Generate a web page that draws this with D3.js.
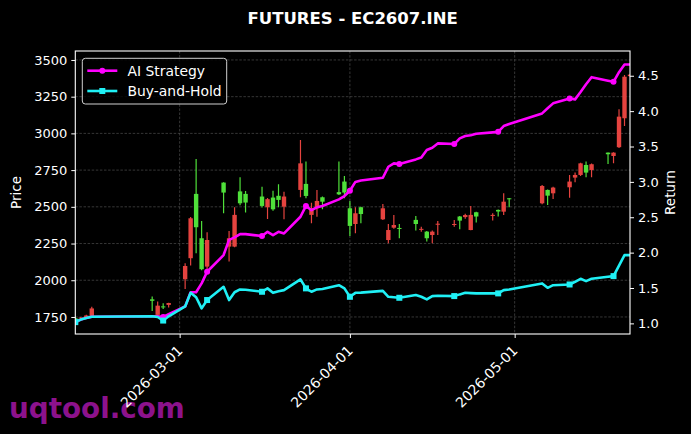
<!DOCTYPE html>
<html><head><meta charset="utf-8">
<script src="https://cdn.jsdelivr.net/npm/d3@7"></script>
<style>
body{margin:0;background:#000;}
svg{display:block;}
text{font-family:"DejaVu Sans",sans-serif;}
</style>
</head><body>
<svg id="c" width="691" height="434"></svg>
<script>
const dates = ["2026-02-10","2026-02-11","2026-02-12","2026-02-13","2026-02-24","2026-02-25","2026-02-26","2026-02-27",
"2026-03-02","2026-03-03","2026-03-04","2026-03-05","2026-03-06","2026-03-09","2026-03-10","2026-03-11","2026-03-12","2026-03-13",
"2026-03-16","2026-03-17","2026-03-18","2026-03-19","2026-03-20","2026-03-23","2026-03-24","2026-03-25","2026-03-26","2026-03-27",
"2026-03-30","2026-03-31","2026-04-01","2026-04-02","2026-04-03","2026-04-07","2026-04-08","2026-04-09","2026-04-10",
"2026-04-13","2026-04-14","2026-04-15","2026-04-16","2026-04-17","2026-04-20","2026-04-21","2026-04-22","2026-04-23","2026-04-24",
"2026-04-27","2026-04-28","2026-04-29","2026-04-30","2026-05-06","2026-05-07","2026-05-08","2026-05-11","2026-05-12","2026-05-13",
"2026-05-14","2026-05-15","2026-05-18","2026-05-19","2026-05-20","2026-05-21","2026-05-22"];
const open  = [1742,1740,1745,1755,1870,1764,1822,1832,2007,2150,2588,2286,2093,2665,2229,2229,2605,2588,2570,2497,2563,2575,2501,2615,2656,2445,2490,2565,2600,2672,2490,2383,2497,2415,2274,2358,2356,2411,2343,2331,2308,2378,2378,2434,2430,2342,2463,2438,2479,2467,2558,2524,2615,2592,2633,2699,2717,2785,2751,2869,2846,2906,3103,3390];
const high  = [1748,1750,1765,1820,1890,1855,1843,1847,2115,2430,2826,2404,2327,2668,2336,2497,2701,2608,2637,2560,2610,2654,2603,2955,2808,2528,2615,2570,2808,2710,2540,2497,2500,2520,2383,2445,2383,2438,2365,2335,2338,2404,2411,2438,2452,2506,2466,2456,2482,2592,2560,2648,2618,2637,2717,2733,2800,2808,2795,2870,2872,3164,3398,3405];
const low   = [1730,1735,1740,1750,1790,1760,1805,1815,1940,2100,2184,2068,2059,2456,2127,2225,2510,2461,2495,2417,2474,2497,2415,2565,2558,2388,2433,2483,2580,2558,2302,2320,2388,2410,2252,2350,2286,2338,2330,2263,2252,2308,2365,2347,2418,2340,2393,2406,2434,2445,2497,2518,2513,2553,2562,2667,2710,2701,2701,2792,2796,2900,3051,3385];
const close = [1738,1746,1760,1808,1860,1827,1818,1845,2097,2422,2361,2075,2274,2597,2286,2445,2524,2529,2506,2552,2483,2547,2570,2796,2574,2490,2540,2535,2585,2597,2370,2456,2451,2490,2342,2376,2350,2383,2350,2286,2331,2385,2383,2406,2444,2445,2434,2445,2468,2535,2552,2642,2576,2631,2672,2717,2796,2733,2790,2858,2869,3114,3386,3400];
const aiReturn = [1.018,1.054,1.075,1.093,1.10,1.10,1.09,1.13,1.24,1.44,1.44,1.565,1.73,1.966,2.18,2.216,2.262,2.262,2.234,2.295,2.248,2.295,2.272,2.507,2.66,2.60,2.64,2.66,2.753,2.80,2.874,3.0,3.02,3.058,3.214,3.262,3.252,3.318,3.346,3.45,3.482,3.544,3.535,3.615,3.648,3.66,3.68,3.70,3.708,3.789,3.817,3.968,4.04,4.11,4.18,4.166,4.27,4.38,4.48,4.43,4.415,4.55,4.66,4.66];
const bhReturn = [1.018,1.054,1.075,1.093,1.10,1.09,1.04,1.10,1.24,1.432,1.37,1.212,1.33,1.517,1.33,1.44,1.48,1.475,1.447,1.495,1.432,1.455,1.47,1.622,1.495,1.447,1.48,1.485,1.54,1.495,1.376,1.432,1.435,1.46,1.376,1.37,1.362,1.40,1.376,1.339,1.386,1.39,1.386,1.41,1.432,1.428,1.424,1.424,1.424,1.47,1.48,1.565,1.503,1.54,1.55,1.588,1.63,1.598,1.63,1.66,1.668,1.817,1.965,1.965];
const priceTicks = [1750,2000,2250,2500,2750,3000,3250,3500];
const returnTicks = [1.0,1.5,2.0,2.5,3.0,3.5,4.0,4.5];
const dateTicks = ["2026-03-01","2026-04-01","2026-05-01"];
const seriesNames = ["AI Strategy","Buy-and-Hold"];
const titleText = "FUTURES - EC2607.INE";
const watermark = "uqtool.com";

const W=691,H=434, L=75.3, R=630, T=51, B=334;
const parse = d3.utcParse("%Y-%m-%d");
const dts = dates.map(parse);
const svg = d3.select("#c");
svg.append("rect").attr("width",W).attr("height",H).attr("fill","#000");

const x = d3.scaleUtc().domain([parse("2026-02-10"), parse("2026-05-22")]).range([L,R]);
const yP = d3.scaleLinear().domain([1634,3561]).range([B,T]);
const yR = d3.scaleLinear().domain([0.85,4.85]).range([B,T]);

const RED="#e5433f", GREEN="#4fe03a", MAG="#ff00ff", CYAN="#1ff0f5";

// watermark
svg.append("text").attr("x",9).attr("y",418).attr("fill","#8c128c").attr("font-weight","bold")
  .attr("font-size",27.8).text(watermark);

// title
svg.append("text").attr("x",(L+R)/2).attr("y",24).attr("text-anchor","middle").attr("fill","#fff")
  .attr("font-weight","bold").attr("font-size",16.5).text(titleText);

// grid
const g = svg.append("g");
g.selectAll(".gh").data(priceTicks).enter().append("line")
  .attr("x1",L).attr("x2",R).attr("y1",d=>yP(d)).attr("y2",d=>yP(d))
  .attr("stroke","#4d4d4d").attr("stroke-width",0.7).attr("stroke-dasharray","2.5,1.6");
g.selectAll(".gv").data(dateTicks.map(parse)).enter().append("line")
  .attr("y1",T).attr("y2",B).attr("x1",d=>x(d)).attr("x2",d=>x(d))
  .attr("stroke","#4d4d4d").attr("stroke-width",0.7).attr("stroke-dasharray","2.5,1.6");

// clip
svg.append("clipPath").attr("id","clip").append("rect").attr("x",L).attr("y",T).attr("width",R-L).attr("height",B-T);
const plot = svg.append("g").attr("clip-path","url(#clip)");

const bw = x(parse("2026-02-11"))-x(parse("2026-02-10"));
const cw = bw*0.8;
const candles = plot.append("g");
dts.forEach((d,i)=>{
  const up = close[i]>=open[i];
  const col = up?RED:GREEN;
  candles.append("line").attr("x1",x(d)).attr("x2",x(d)).attr("y1",yP(high[i])).attr("y2",yP(low[i]))
    .attr("stroke",col).attr("stroke-width",1.2);
  const y0 = yP(Math.max(open[i],close[i])), y1 = yP(Math.min(open[i],close[i]));
  candles.append("rect").attr("x",x(d)-cw/2).attr("width",cw).attr("y",y0).attr("height",Math.max(1,y1-y0))
    .attr("fill",col);
});

const line = (arr)=>d3.line().x((d,i)=>x(dts[i])).y(d=>yR(d))(arr);
plot.append("path").attr("d",line(aiReturn)).attr("fill","none").attr("stroke",MAG).attr("stroke-width",2.6).attr("stroke-linejoin","round");
plot.append("path").attr("d",line(bhReturn)).attr("fill","none").attr("stroke",CYAN).attr("stroke-width",2.6).attr("stroke-linejoin","round");
const every = 6;
aiReturn.forEach((v,i)=>{ if(i%every===0) plot.append("circle").attr("cx",x(dts[i])).attr("cy",yR(v)).attr("r",3).attr("fill",MAG); });
bhReturn.forEach((v,i)=>{ if(i%every===0) plot.append("rect").attr("x",x(dts[i])-3).attr("y",yR(v)-3).attr("width",6).attr("height",6).attr("fill",CYAN); });

// frame
svg.append("rect").attr("x",L).attr("y",T).attr("width",R-L).attr("height",B-T).attr("fill","none").attr("stroke","#fff").attr("stroke-width",1.1);

// axes
const fs = 13;
const ax1 = svg.append("g").attr("transform",`translate(${L},0)`)
  .call(d3.axisLeft(yP).tickValues(priceTicks).tickSize(4).tickPadding(4).tickFormat(d3.format("d")));
const ax2 = svg.append("g").attr("transform",`translate(${R},0)`)
  .call(d3.axisRight(yR).tickValues(returnTicks).tickSize(4).tickPadding(4).tickFormat(d3.format(".1f")));
const ax3 = svg.append("g").attr("transform",`translate(0,${B})`)
  .call(d3.axisBottom(x).tickValues(dateTicks.map(parse)).tickSize(4).tickFormat(d3.utcFormat("%Y-%m-%d")));
[ax1,ax2,ax3].forEach(a=>{
  a.select(".domain").remove();
  a.selectAll("line").attr("stroke","#fff");
  a.selectAll("text").attr("fill","#fff").attr("font-size",fs).attr("font-family","DejaVu Sans");
});
ax3.selectAll("text").attr("font-size",13.9).attr("text-anchor","end").attr("x",0).attr("y",0).attr("dy","0.35em")
  .attr("transform","translate(0,14) rotate(-45)");

svg.append("text").attr("transform",`translate(21,${(T+B)/2}) rotate(-90)`).attr("text-anchor","middle")
  .attr("fill","#fff").attr("font-size",13.5).text("Price");
svg.append("text").attr("transform",`translate(675,${(T+B)/2}) rotate(-90)`).attr("text-anchor","middle")
  .attr("fill","#fff").attr("font-size",13.5).text("Return");

// legend
const lg = svg.append("g");
lg.append("rect").attr("x",82.3).attr("y",58.3).attr("width",144.4).attr("height",45.7).attr("rx",3)
  .attr("fill","#000").attr("fill-opacity",0.8).attr("stroke","#d0d0d0").attr("stroke-width",1);
[[MAG,"c",70.7],[CYAN,"s",91]].forEach((e,k)=>{
  lg.append("line").attr("x1",87.3).attr("x2",117.3).attr("y1",e[2]).attr("y2",e[2]).attr("stroke",e[0]).attr("stroke-width",2.6);
  if(e[1]==="c") lg.append("circle").attr("cx",102.3).attr("cy",e[2]).attr("r",3).attr("fill",e[0]);
  else lg.append("rect").attr("x",99.3).attr("y",e[2]-3).attr("width",6).attr("height",6).attr("fill",e[0]);
  lg.append("text").attr("x",127.5).attr("y",e[2]).attr("dy","0.36em").attr("fill","#fff").attr("font-size",13.9).text(seriesNames[k]);
});
</script>
</body></html>
